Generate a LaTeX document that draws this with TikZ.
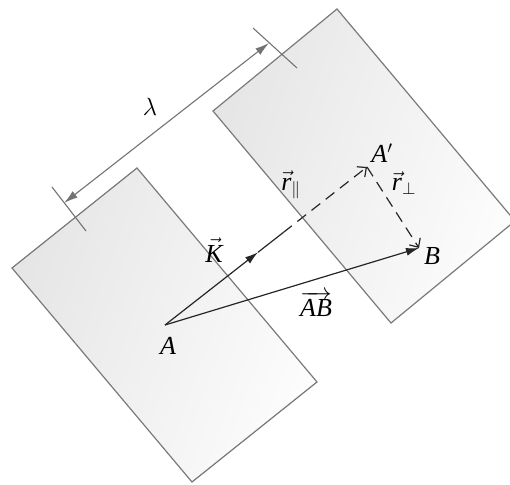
\documentclass[tikz,border=0pt]{standalone}
\usepackage{fontspec}
\setmainfont{Liberation Serif}
\usetikzlibrary{arrows.meta,calc}
\tikzset{
  plate/.style={draw=black!52, line width=1.2pt, left color=black!10, right color=black!1, shading angle=70},
  dimline/.style={draw=black!55, line width=1.1pt},
  vecline/.style={draw=black!85, line width=1.2pt},
  dashline/.style={vecline, dash pattern=on 11pt off 7pt},
  fullhead/.style={-{Latex[length=13pt,width=8pt]}},
  openhead/.style={-{Straight Barb[length=7pt,width=13pt,line width=1.2pt]}},
  lbl/.style={font=\fontsize{26}{30}\selectfont\itshape, inner sep=0pt}
}
\begin{document}
\begin{tikzpicture}[x=1pt,y=-1pt]
\useasboundingbox (0,0) rectangle (510,484);
% plates
\path[plate] (337,9) -- (515,221) -- (391,323) -- (213,111) -- cycle;
\path[plate] (137,168) -- (317,382) -- (192,482) -- (12,268) -- cycle;
% dimension lambda
\coordinate (d1) at (64,203);
\coordinate (d2) at (269,43);
\coordinate (t1a) at (52,187);
\coordinate (t1b) at (86,231);
\coordinate (t2a) at (253,28);
\coordinate (t2b) at (297,68);
\draw[dimline] (t1a) -- (t1b);
\draw[dimline] (t2a) -- (t2b);
\draw[dimline, {Latex[length=14pt,width=8pt]}-{Latex[length=14pt,width=8pt]}] (d1) -- (d2);
\node[lbl] (lam) at (150,107) {$\lambda$};
% points
\coordinate (A) at (165,325);
\coordinate (Ap) at (367,167);
\coordinate (B) at (419,248);
\coordinate (Kh) at ($(A)!0.46!(Ap)$);
\coordinate (Ks) at ($(A)!0.585!(Ap)$);
\draw[vecline, fullhead] (A) -- (Kh);
\draw[vecline] (Kh) -- (Ks);
\draw[dashline, openhead] (Ks) -- (Ap);
\draw[dashline, openhead] (Ap) -- (B);
\draw[vecline, fullhead] (A) -- (B);
% labels
\node[lbl] (lA) at (168,346) {A};
\node[lbl] (lB) at (432,256) {B};
\node[lbl] (lAp) at (382,153) {A$'$};
\node[lbl] (lK) at (214,250) {$\vec{\mbox{\itshape K}}$};
\node[lbl] (lAB) at (316,304) {$\overrightarrow{\mbox{\itshape AB}}$};
\node[lbl] (lrp) at (291,185) {$\vec{\mbox{\itshape r}}_{\parallel}$};
\node[lbl] (lrq) at (404,183) {$\vec{\mbox{\itshape r}}_{\perp}$};
\end{tikzpicture}
\end{document}
